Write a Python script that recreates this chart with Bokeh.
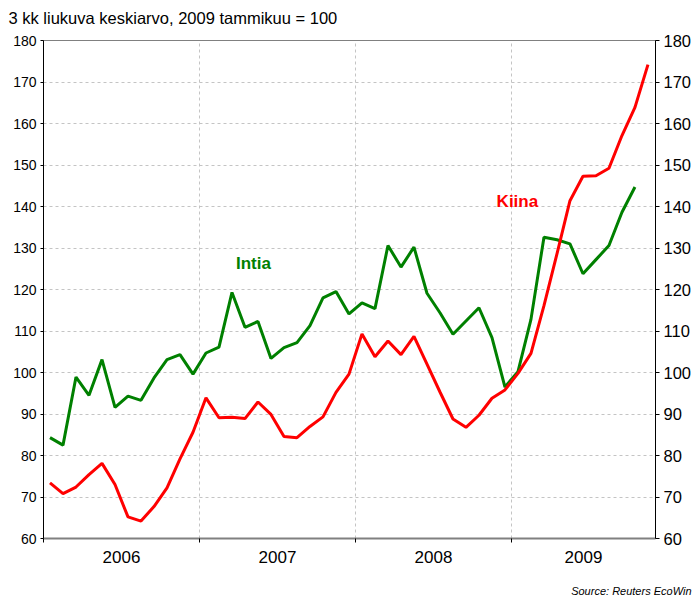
from bokeh.plotting import figure
from bokeh.models import Range1d, LinearAxis, FixedTicker, Label, Title, CustomJSTickFormatter
from bokeh.embed import file_html
from bokeh.resources import INLINE

# ---- data (monthly, 3-month moving average, Jan 2009 = 100) ----
start_year = 2006
intia = [84.3, 82.5, 98.9, 94.5, 103.1, 91.6, 94.3, 93.3, 98.7, 103.1, 104.3, 99.6,
         104.7, 106.1, 119.3, 110.9, 112.3, 103.4, 106.0, 107.2, 111.3, 118.0, 119.5, 114.1,
         116.8, 115.4, 130.6, 125.4, 130.2, 119.1, 114.4, 109.2, 112.4, 115.6, 108.4, 96.5,
         100.2, 112.8, 132.6, 132.0, 131.0, 123.8, 127.2, 130.6, 138.6, 144.7]
kiina = [73.4, 70.8, 72.4, 75.4, 78.1, 73.0, 65.2, 64.2, 67.7, 72.2, 79.2, 85.6,
         93.9, 89.1, 89.2, 88.9, 92.9, 89.9, 84.6, 84.3, 87.0, 89.3, 95.2, 99.6,
         109.3, 103.8, 107.6, 104.3, 108.7, 102.0, 95.3, 88.8, 86.8, 89.7, 93.8, 95.8,
         99.8, 104.6, 116.1, 128.6, 141.4, 147.3, 147.4, 149.2, 157.1, 163.9, 174.2]
years = [2006, 2007, 2008, 2009]
y_ticks = [60, 70, 80, 90, 100, 110, 120, 130, 140, 150, 160, 170, 180]
title_text = "3 kk liukuva keskiarvo, 2009 tammikuu = 100"
source_text = "Source: Reuters EcoWin"
name_intia = "Intia"
name_kiina = "Kiina"

FONT = "Liberation Sans"
GREEN = "#008000"
RED = "#ff0000"

x_intia = [start_year + (i + 0.5) / 12 for i in range(len(intia))]
x_kiina = [start_year + (i + 0.5) / 12 for i in range(len(kiina))]

x_start = start_year
x_end = start_year + 47.08 / 12
y_start, y_end = y_ticks[0], y_ticks[-1]

p = figure(width=694, height=599, output_backend="svg", toolbar_location=None,
           x_range=Range1d(x_start, x_end), y_range=Range1d(y_start, y_end),
           min_border_left=43, min_border_right=39, min_border_top=40, min_border_bottom=61)
p.outline_line_color = "#808080"
p.outline_line_width = 1
p.background_fill_color = "white"
p.border_fill_color = "white"

# title (top-left)
p.title.text = title_text
p.title.align = "left"
p.title.offset = -35
p.title.text_font = FONT
p.title.text_font_size = "16.5px"
p.title.text_font_style = "normal"
p.title.text_color = "#000000"
p.title.standoff = 0
p.title.padding = dict(left=0, right=0, top=0, bottom=14)

# grids
p.ygrid.ticker = FixedTicker(ticks=y_ticks)
p.xgrid.ticker = FixedTicker(ticks=years[1:])
for g in (p.xgrid, p.ygrid):
    g.grid_line_color = "#c4c4c4"
    g.grid_line_dash = "3 3"
    g.grid_line_width = 1

# x axis: year labels centred in each year, ticks at year boundaries
last_mid = (years[-1] + x_end) / 2
xa = p.xaxis[0]
xa.ticker = FixedTicker(ticks=[y + 0.5 for y in years[:-1]] + [last_mid], minor_ticks=years)
xa.formatter = CustomJSTickFormatter(code="return String(Math.floor(tick));")
xa.major_tick_out = 0
xa.major_tick_in = 0
xa.minor_tick_out = 4
xa.minor_tick_in = 0
xa.minor_tick_line_color = "#000000"
xa.axis_line_color = "#808080"
xa.axis_line_width = 2
xa.major_label_text_font = FONT
xa.major_label_text_font_size = "17px"
xa.major_label_text_color = "#000000"
xa.major_label_standoff = 8

# left y axis
ya = p.yaxis[0]
ya.ticker = FixedTicker(ticks=y_ticks)
ya.minor_tick_line_color = None
ya.major_tick_out = 3
ya.major_tick_in = 0
ya.major_tick_line_color = "#000000"
ya.axis_line_color = "#000000"
ya.major_label_text_font = FONT
ya.major_label_text_font_size = "14px"
ya.major_label_text_color = "#000000"
ya.major_label_standoff = 4

# right y axis
ra = LinearAxis(ticker=FixedTicker(ticks=y_ticks))
ra.minor_tick_line_color = None
ra.major_tick_out = 4
ra.major_tick_in = 0
ra.major_tick_line_color = "#000000"
ra.axis_line_color = "#000000"
ra.major_label_text_font = FONT
ra.major_label_text_font_size = "16.5px"
ra.major_label_text_color = "#000000"
ra.major_label_standoff = 4
p.add_layout(ra, "right")

# source (bottom-right)
src = Title(text=source_text, align="right", offset=-36, text_font=FONT,
            text_font_size="11px", text_font_style="italic", text_color="#000000",
            standoff=0, padding=dict(left=0, right=0, top=17, bottom=0))
p.add_layout(src, "below")

# series
p.line(x_intia, intia, line_color=GREEN, line_width=3)
p.line(x_kiina, kiina, line_color=RED, line_width=3)

# series labels
p.add_layout(Label(x=2007.346, y=126.2, text=name_intia, text_color=GREEN,
                   text_font=FONT, text_font_size="17px", text_font_style="bold",
                   text_align="center", text_baseline="middle"))
p.add_layout(Label(x=2009.038, y=141.2, text=name_kiina, text_color=RED,
                   text_font=FONT, text_font_size="17px", text_font_style="bold",
                   text_align="center", text_baseline="middle"))

open("out.html", "w").write(file_html(p, INLINE))
